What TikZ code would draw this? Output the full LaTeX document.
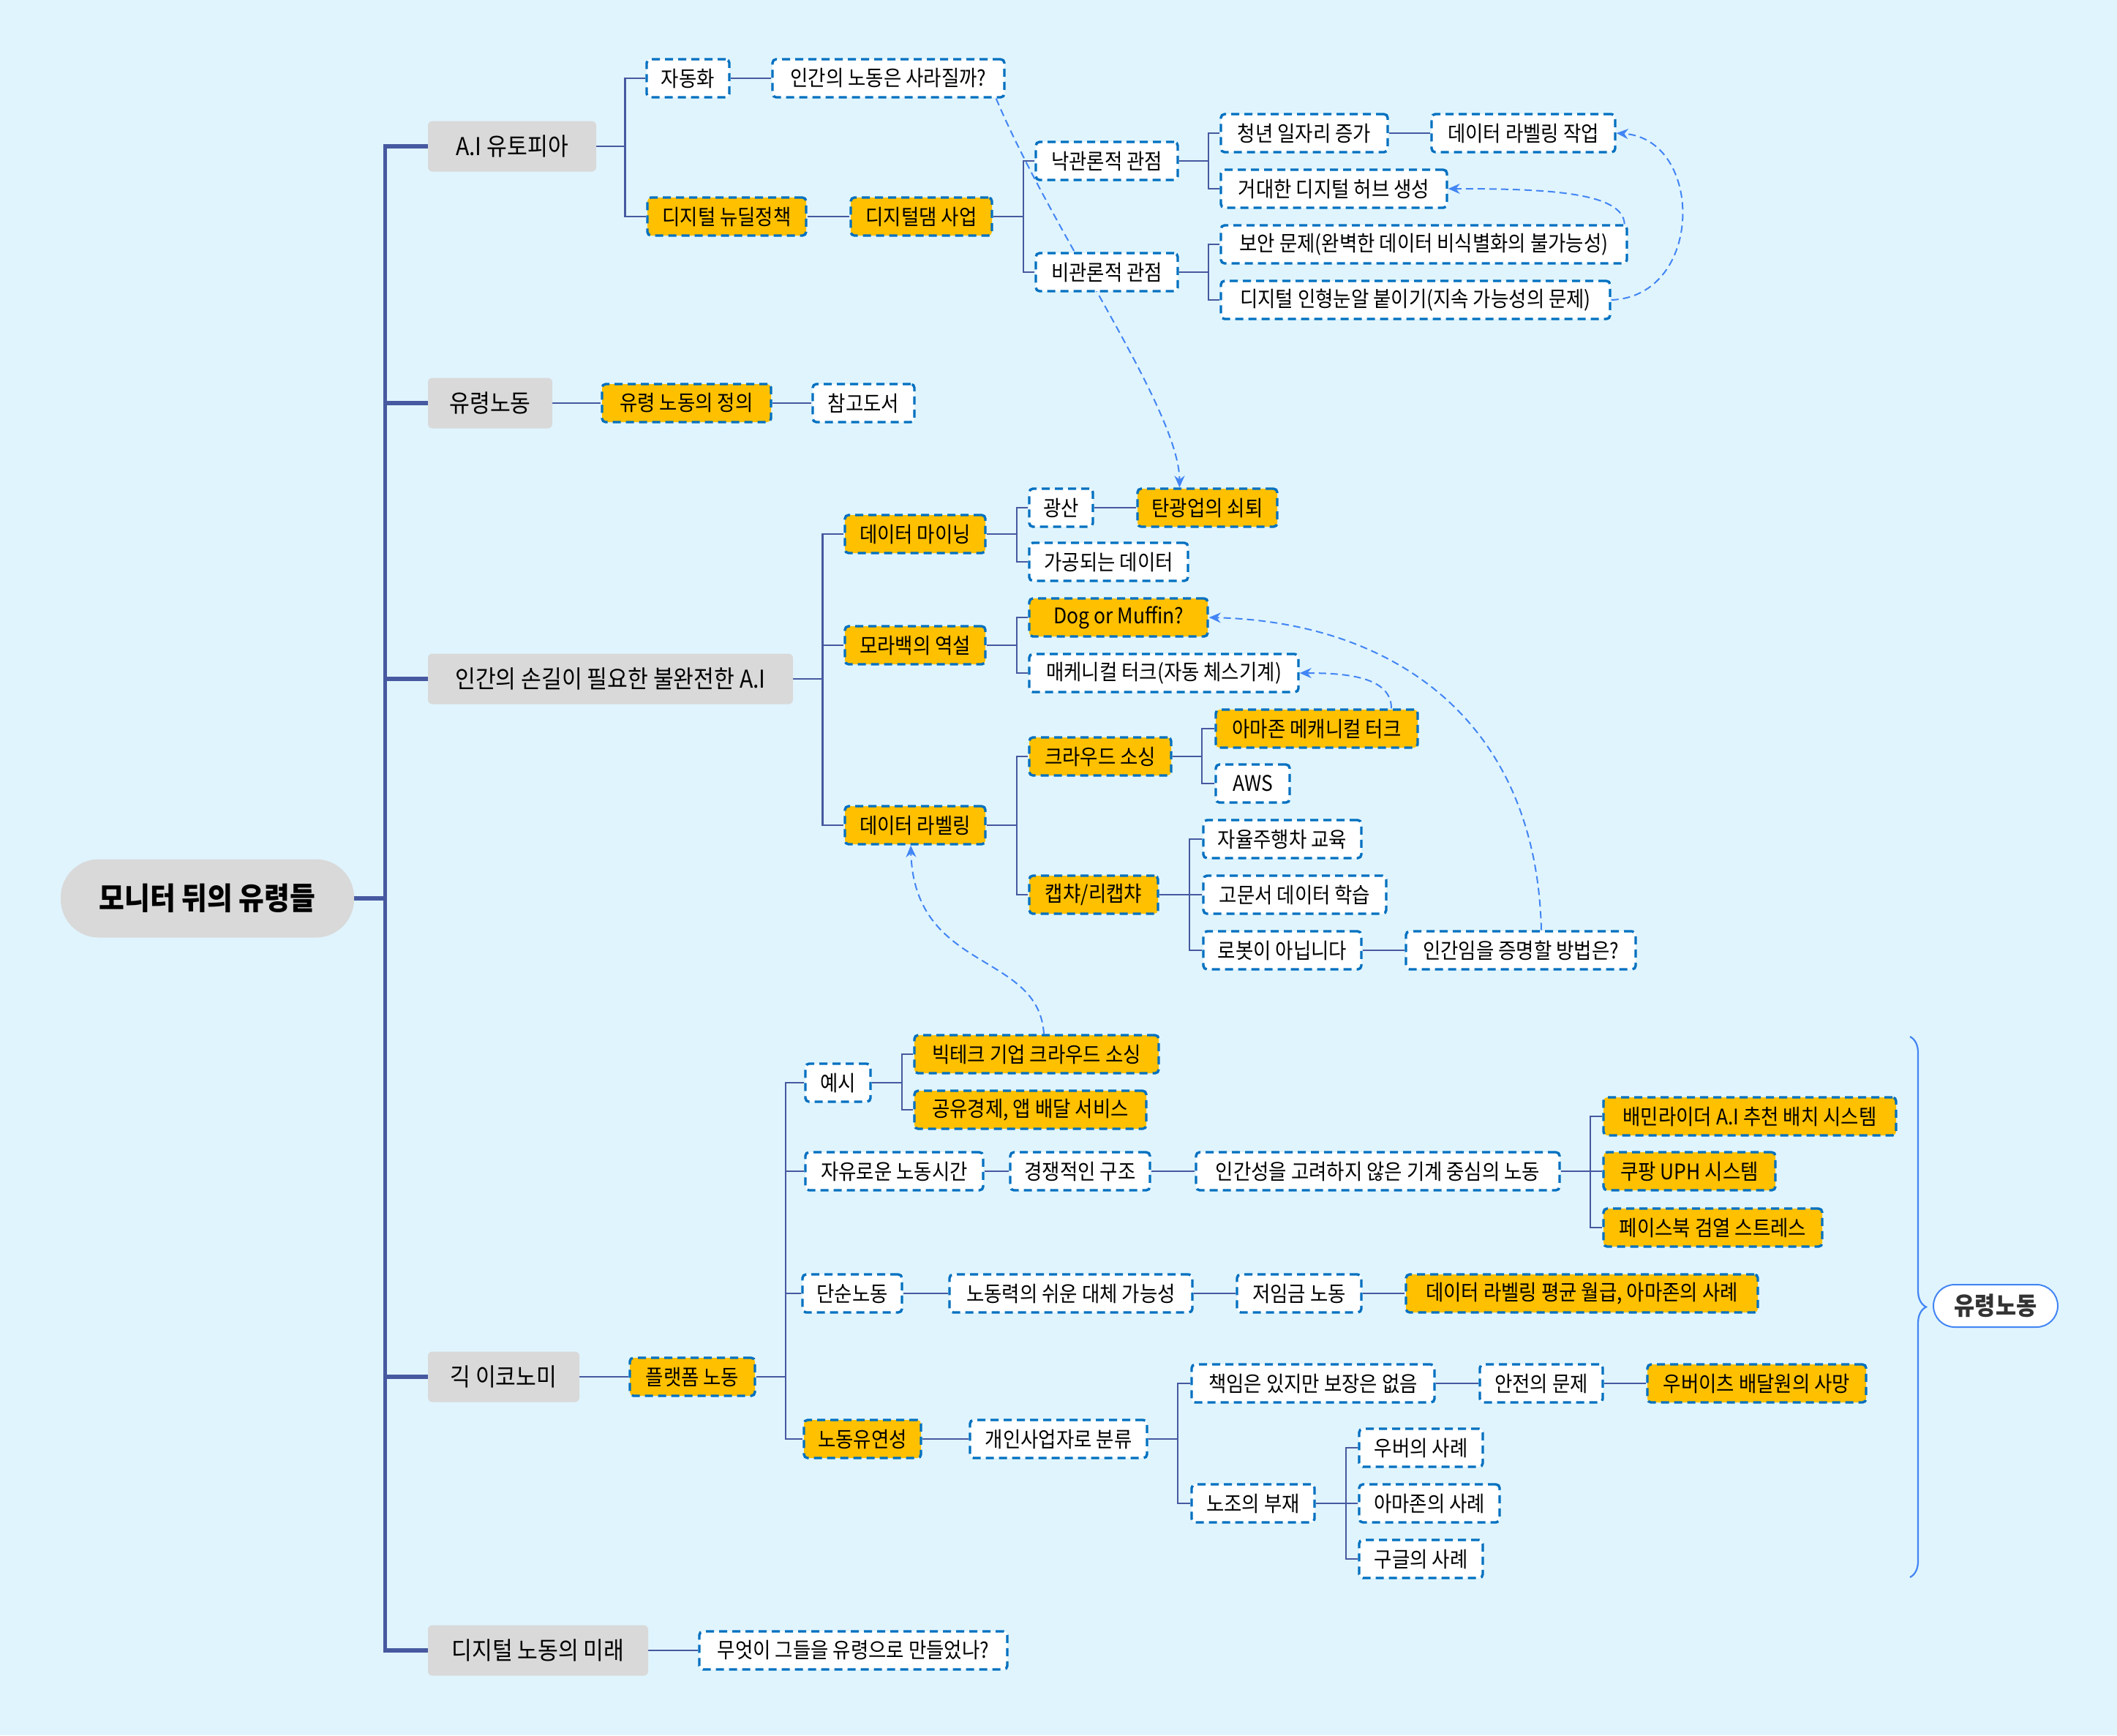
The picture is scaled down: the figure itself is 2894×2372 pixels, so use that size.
\documentclass[tikz,border=0pt]{standalone}
\usepackage{fontspec}
\setmainfont{Noto Sans CJK KR}[FakeStretch=0.9]
\usetikzlibrary{arrows.meta,decorations.pathreplacing}
\definecolor{bgc}{RGB}{224,244,253}
\definecolor{goldc}{RGB}{255,192,0}
\definecolor{bordc}{RGB}{0,112,192}
\definecolor{edgec}{RGB}{70,89,160}
\definecolor{linkc}{RGB}{66,133,244}
\definecolor{grayc}{RGB}{217,217,217}
\definecolor{darkc}{RGB}{51,51,51}
\pgfdeclarelayer{back}
\pgfdeclarelayer{lines}
\pgfsetlayers{back,lines,main}
\newcommand\mnode[6]{\node[#1, minimum width={(#4-#3)*0.5pt}] (#2) at ({(#3+#4)/2},#5) {#6};}
\newcommand\elb[3]{\draw[edge] (#1.east) -- ++(#3,0) |- (#2.west);}
\newcommand\stl[2]{\draw[edge] (#1.east) -- (#2.west);}
\begin{document}
\begin{tikzpicture}[x=0.5pt,y=-0.5pt,
  edge/.style={draw=edgec, line width=1.2pt},
  trunk/.style={draw=edgec, line width=2.8pt},
  rootbox/.style={fill=grayc, rounded corners=26pt, minimum height=53.5pt, inner sep=0pt,
    font=\bfseries\fontsize{21}{25}\selectfont},
  topic/.style={fill=grayc, rounded corners=3pt, minimum height=34.5pt, inner sep=0pt,
    font=\fontsize{16.8}{20}\selectfont},
  leaf/.style={draw=bordc, fill=white, dash pattern=on 5.5pt off 3.5pt, line width=1.7pt,
    rounded corners=2.5pt, minimum height=26pt, inner sep=0pt, font=\fontsize{14.7}{18}\selectfont},
  gleaf/.style={leaf, fill=goldc},
  ghost/.style={draw=linkc, fill=white, line width=1pt, rounded corners=14.5pt, minimum height=29pt,
    inner sep=0pt, text=darkc, font=\bfseries\fontsize{17}{20}\selectfont},
  link/.style={draw=linkc, line width=1pt, dash pattern=on 5pt off 3pt,
    -{Stealth[length=8pt,width=7pt]}},
  bracestyle/.style={draw=linkc, line width=1.1pt, decorate, decoration={brace, amplitude=11pt}}
]
\begin{pgfonlayer}{back}
\fill[bgc] (0,0) rectangle (2894,2372);
\end{pgfonlayer}
\useasboundingbox (0,0) rectangle (2894,2372);

% root and topics
\mnode{rootbox}{root}{83}{484}{1228}{모니터 뒤의 유령들}
\mnode{topic}{t1}{585}{815}{200}{A.I 유토피아}
\mnode{topic}{t2}{585}{755}{551}{유령노동}
\mnode{topic}{t3}{585}{1084}{928}{인간의 손길이 필요한 불완전한 A.I}
\mnode{topic}{t4}{585}{792}{1882}{긱 이코노미}
\mnode{topic}{t5}{585}{886}{2256}{디지털 노동의 미래}

% branch 1
\mnode{leaf}{a1}{884}{997}{107}{자동화}
\mnode{leaf}{a2}{1056}{1373}{107}{인간의 노동은 사라질까?}
\mnode{gleaf}{a3}{885}{1102}{296}{디지털 뉴딜정책}
\mnode{gleaf}{a4}{1163}{1356}{296}{디지털댐 사업}
\mnode{leaf}{a5}{1416}{1610}{220}{낙관론적 관점}
\mnode{leaf}{a6}{1416}{1610}{372}{비관론적 관점}
\mnode{leaf}{a7}{1669}{1897}{182}{청년 일자리 증가}
\mnode{leaf}{a8}{1957}{2208}{182}{데이터 라벨링 작업}
\mnode{leaf}{a9}{1669}{1978}{258}{거대한 디지털 허브 생성}
\mnode{leaf}{a10}{1669}{2224}{334}{보안 문제(완벽한 데이터 비식별화의 불가능성)}
\mnode{leaf}{a11}{1669}{2201}{410}{디지털 인형눈알 붙이기(지속 가능성의 문제)}

% branch 2
\mnode{gleaf}{b1}{823}{1054}{551}{유령 노동의 정의}
\mnode{leaf}{b2}{1111}{1250}{551}{참고도서}

% branch 3
\mnode{gleaf}{c1}{1155}{1347}{730}{데이터 마이닝}
\mnode{gleaf}{c2}{1155}{1347}{882}{모라백의 역설}
\mnode{gleaf}{c3}{1155}{1347}{1128}{데이터 라벨링}
\mnode{leaf}{c4}{1407}{1494}{694}{광산}
\mnode{gleaf}{c5}{1555}{1746}{694}{탄광업의 쇠퇴}
\mnode{leaf}{c6}{1407}{1624}{768}{가공되는 데이터}
\mnode{gleaf}{c7}{1407}{1651}{844}{Dog or Muffin?}
\mnode{leaf}{c8}{1407}{1775}{920}{매케니컬 터크(자동 체스기계)}
\mnode{gleaf}{c9}{1407}{1601}{1034}{크라우드 소싱}
\mnode{gleaf}{c10}{1407}{1583}{1223}{캡챠/리캡챠}
\mnode{gleaf}{c11}{1662}{1938}{996}{아마존 메캐니컬 터크}
\mnode{leaf}{c12}{1662}{1763}{1071}{AWS}
\mnode{leaf}{c13}{1645}{1861}{1147}{자율주행차 교육}
\mnode{leaf}{c14}{1645}{1895}{1223}{고문서 데이터 학습}
\mnode{leaf}{c15}{1645}{1861}{1299}{로봇이 아닙니다}
\mnode{leaf}{c16}{1922}{2236}{1299}{인간임을 증명할 방법은?}

% branch 4
\mnode{gleaf}{d1}{861}{1032}{1882}{플랫폼 노동}
\mnode{leaf}{d2}{1101}{1190}{1480}{예시}
\mnode{gleaf}{d3}{1250}{1584}{1441}{빅테크 기업 크라우드 소싱}
\mnode{gleaf}{d4}{1250}{1567}{1517}{공유경제, 앱 배달 서비스}
\mnode{leaf}{d5}{1101}{1344}{1601}{자유로운 노동시간}
\mnode{leaf}{d6}{1381}{1572}{1601}{경쟁적인 구조}
\mnode{leaf}{d7}{1635}{2132}{1601}{인간성을 고려하지 않은 기계 중심의 노동}
\mnode{gleaf}{d8}{2192}{2592}{1526}{배민라이더 A.I 추천 배치 시스템}
\mnode{gleaf}{d9}{2192}{2427}{1601}{쿠팡 UPH 시스템}
\mnode{gleaf}{d10}{2192}{2491}{1678}{페이스북 검열 스트레스}
\mnode{leaf}{d11}{1097}{1233}{1768}{단순노동}
\mnode{leaf}{d12}{1298}{1630}{1768}{노동력의 쉬운 대체 가능성}
\mnode{leaf}{d13}{1691}{1861}{1768}{저임금 노동}
\mnode{gleaf}{d14}{1922}{2403}{1768}{데이터 라벨링 평균 월급, 아마존의 사례}
\mnode{gleaf}{d15}{1099}{1259}{1967}{노동유연성}
\mnode{leaf}{d16}{1326}{1568}{1967}{개인사업자로 분류}
\mnode{leaf}{d17}{1629}{1961}{1891}{책임은 있지만 보장은 없음}
\mnode{leaf}{d18}{2023}{2191}{1891}{안전의 문제}
\mnode{gleaf}{d19}{2252}{2551}{1891}{우버이츠 배달원의 사망}
\mnode{leaf}{d20}{1629}{1797}{2055}{노조의 부재}
\mnode{leaf}{d21}{1858}{2027}{1979}{우버의 사례}
\mnode{leaf}{d22}{1858}{2050}{2055}{아마존의 사례}
\mnode{leaf}{d23}{1858}{2027}{2131}{구글의 사례}

% branch 5
\mnode{leaf}{e1}{956}{1377}{2256}{무엇이 그들을 유령으로 만들었나?}

% ghost labour summary
\mnode{ghost}{gh}{2643}{2813}{1785}{유령노동}
\coordinate (bt) at (2611,1417);
\coordinate (bb) at (2611,2156);
\draw[bracestyle] (bt) -- (bb);

\begin{pgfonlayer}{lines}
% trunk
\foreach \t in {t1,t2,t3,t4,t5} \draw[trunk] (root.east) -- ++(42,0) |- (\t.west);
% branch 1
\elb{t1}{a1}{39} \elb{t1}{a3}{39}
\stl{a1}{a2} \stl{a3}{a4}
\elb{a4}{a5}{41} \elb{a4}{a6}{41}
\elb{a5}{a7}{40} \elb{a5}{a9}{40}
\elb{a6}{a10}{40} \elb{a6}{a11}{40}
\stl{a7}{a8}
% branch 2
\stl{t2}{b1} \stl{b1}{b2}
% branch 3
\elb{t3}{c1}{40} \elb{t3}{c2}{40} \elb{t3}{c3}{40}
\elb{c1}{c4}{41} \elb{c1}{c6}{41} \stl{c4}{c5}
\elb{c2}{c7}{41} \elb{c2}{c8}{41}
\elb{c3}{c9}{41} \elb{c3}{c10}{41}
\elb{c9}{c11}{40} \elb{c9}{c12}{40}
\elb{c10}{c13}{41} \elb{c10}{c14}{41} \elb{c10}{c15}{41}
\stl{c15}{c16}
% branch 4
\stl{t4}{d1}
\elb{d1}{d2}{40} \elb{d1}{d5}{40} \elb{d1}{d11}{40} \elb{d1}{d15}{40}
\elb{d2}{d3}{41} \elb{d2}{d4}{41}
\stl{d5}{d6} \stl{d6}{d7}
\elb{d7}{d8}{40} \elb{d7}{d9}{40} \elb{d7}{d10}{40}
\stl{d11}{d12} \stl{d12}{d13} \stl{d13}{d14}
\stl{d15}{d16}
\elb{d16}{d17}{40} \elb{d16}{d20}{40}
\stl{d17}{d18} \stl{d18}{d19}
\elb{d20}{d21}{41} \elb{d20}{d22}{41} \elb{d20}{d23}{41}
% branch 5
\stl{t5}{e1}
% dashed cross links
\draw[link] ([xshift=-6.5pt]a2.south east) .. controls (1440,320) and (1612,560) .. ([xshift=-19pt]c5.north);
\draw[link] ([xshift=-2.5pt]a10.north east) .. controls (2219,262) and (2110,258) .. (a9.east);
\draw[link] (a11.east) .. controls (2330,405) and (2330,190) .. (a8.east);
\draw[link] ([xshift=51pt]c11.north) .. controls (1902,925) and (1840,920) .. (c8.east);
\draw[link] ([xshift=14pt]c16.north) .. controls (2100,980) and (1900,850) .. (c7.east);
\draw[link] ([xshift=5pt]d3.north) .. controls (1420,1300) and (1250,1330) .. ([xshift=-3pt]c3.south);
\end{pgfonlayer}
\end{tikzpicture}
\end{document}
